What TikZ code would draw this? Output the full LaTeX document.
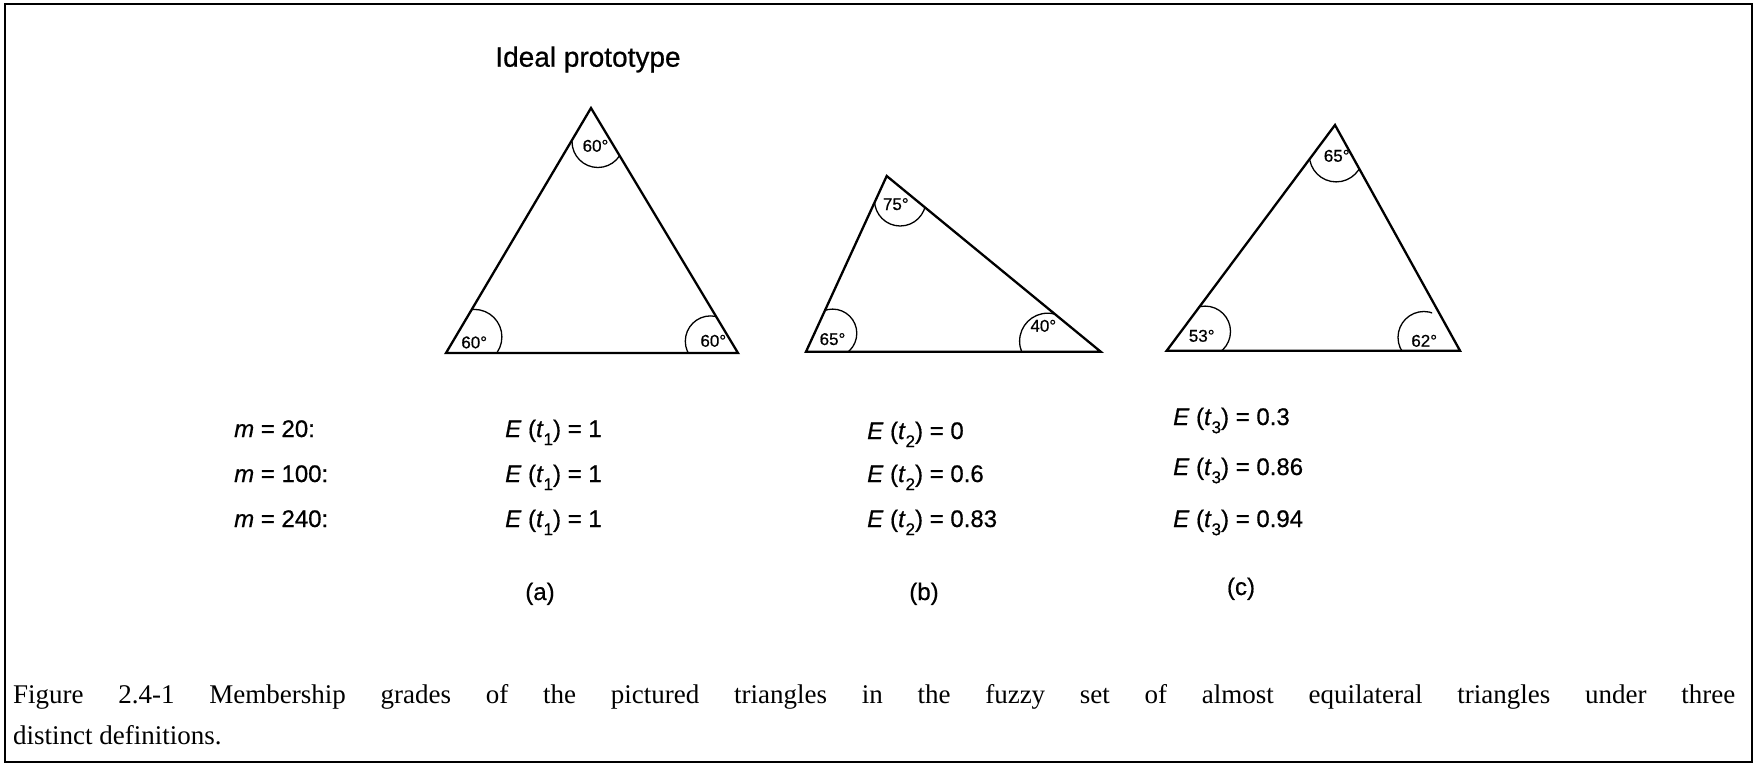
\documentclass[tikz,border=0pt]{standalone}
\usepackage{fontspec}
\setmainfont{Liberation Serif}
\newfontfamily\hv{Liberation Sans}[FakeBold=0.6]
\usetikzlibrary{calc}
\newcommand\lowsub[1]{\raisebox{-0.34em}{\fontsize{17}{17}\selectfont #1}}
\newcommand\cornerarc[6]{%
  \begin{scope}
    \clip ($(#1)!#4pt!(#2)$) -- (#2) -- (#3) -- ($(#1)!#4pt!(#3)$) -- cycle;
    \draw[angarc] (#5) circle[radius=#6];
  \end{scope}}
\tikzset{
  tri/.style={line width=2.3pt, line join=miter},
  angarc/.style={line width=1.3pt},
  anglbl/.style={font=\hv\fontsize{17}{17}\selectfont, inner sep=0pt, anchor=base},
  rowtxt/.style={font=\hv\fontsize{24}{24}\selectfont, inner sep=0pt, anchor=base west},
  sublbl/.style={font=\hv\fontsize{24}{24}\selectfont, inner sep=0pt, anchor=base},
  captxt/.style={font=\fontsize{27}{32}\selectfont, inner sep=0pt, anchor=base west}
}
\begin{document}
\begin{tikzpicture}[x=1pt,y=-1pt]
\useasboundingbox (0,0) rectangle (1756,765);
\draw[line width=2.5pt] (5,4) rectangle (1752,762);

\node[font=\hv\fontsize{28}{28}\selectfont, anchor=base, inner sep=0pt] (ideal) at (588,66.7) {Ideal prototype};

% triangle (a)
\coordinate (a1) at (591,108);
\coordinate (a2) at (446,353);
\coordinate (a3) at (738,353);
\draw[tri] (a1) -- (a2) -- (a3) -- cycle;
\cornerarc{a1}{a2}{a3}{22}{597.9,141.6}{25.9}
\cornerarc{a2}{a1}{a3}{25}{474.4,336.9}{27.5}
\cornerarc{a3}{a1}{a2}{22}{710.6,341.2}{25.3}
\node[anglbl] (la1) at (595.5,151.7) {60°};
\node[anglbl] (la2) at (474.2,348.3) {60°};
\node[anglbl] (la3) at (713.3,346.7) {60°};

% triangle (b)
\coordinate (b1) at (886.7,176);
\coordinate (b2) at (806,351.7);
\coordinate (b3) at (1100.7,351.7);
\draw[tri] (b1) -- (b2) -- (b3) -- cycle;
\cornerarc{b1}{b2}{b3}{15}{900.2,200.3}{25.7}
\cornerarc{b2}{b1}{b3}{20}{832.6,333.3}{24.2}
\cornerarc{b3}{b1}{b2}{47}{1047.6,341.2}{28}
\node[anglbl] (lb1) at (895.8,210) {75°};
\node[anglbl] (lb2) at (832.5,345) {65°};
\node[anglbl] (lb3) at (1043.3,331.7) {40°};

% triangle (c)
\coordinate (c1) at (1335,125);
\coordinate (c2) at (1166.7,350.7);
\coordinate (c3) at (1460,350.7);
\draw[tri] (c1) -- (c2) -- (c3) -- cycle;
\cornerarc{c1}{c2}{c3}{20}{1336.2,155}{26.9}
\cornerarc{c2}{c1}{c3}{38}{1205.1,331.5}{25.4}
\begin{scope}
  \clip (1380,290) rectangle (1432,350.7);
  \draw[angarc] (1423.9,337.4) circle[radius=25.9];
\end{scope}
\node[anglbl] (lc1) at (1336.7,161.7) {65°};
\node[anglbl] (lc2) at (1201.7,341.7) {53°};
\node[anglbl] (lc3) at (1424.2,346.7) {62°};

% rows
\node[rowtxt] (m1) at (234,437) {\textit{m} = 20:};
\node[rowtxt] (m2) at (234,482) {\textit{m} = 100:};
\node[rowtxt] (m3) at (234,527) {\textit{m} = 240:};

\node[rowtxt] (e11) at (505,437) {\textit{E} (\textit{t}\lowsub{1}) = 1};
\node[rowtxt] (e12) at (505,482) {\textit{E} (\textit{t}\lowsub{1}) = 1};
\node[rowtxt] (e13) at (505,527) {\textit{E} (\textit{t}\lowsub{1}) = 1};

\node[rowtxt] (e21) at (867,439) {\textit{E} (\textit{t}\lowsub{2}) = 0};
\node[rowtxt] (e22) at (867,482) {\textit{E} (\textit{t}\lowsub{2}) = 0.6};
\node[rowtxt] (e23) at (867,527) {\textit{E} (\textit{t}\lowsub{2}) = 0.83};

\node[rowtxt] (e31) at (1173,425) {\textit{E} (\textit{t}\lowsub{3}) = 0.3};
\node[rowtxt] (e32) at (1173,475) {\textit{E} (\textit{t}\lowsub{3}) = 0.86};
\node[rowtxt] (e33) at (1173,527) {\textit{E} (\textit{t}\lowsub{3}) = 0.94};

\node[sublbl] (sa) at (540,600) {(a)};
\node[sublbl] (sb) at (924,600) {(b)};
\node[sublbl] (sc) at (1241,595) {(c)};

% caption
\node[captxt] (cap1) at (13,703) {\makebox[1722pt][s]{Figure 2.4-1 Membership grades of the pictured triangles in the fuzzy set of almost equilateral triangles under three}};
\node[captxt] (cap2) at (13,744) {distinct definitions.};
\end{tikzpicture}
\end{document}
